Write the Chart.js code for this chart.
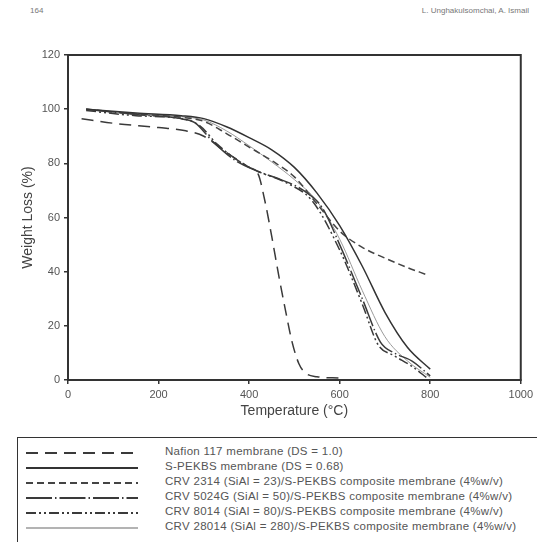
<!DOCTYPE html>
<html>
<head>
<meta charset="utf-8">
<script src="https://cdn.jsdelivr.net/npm/chart.js@4.4.1/dist/chart.umd.min.js"></script>
<style>
  body { margin: 0; background: #fff; font-family: "Liberation Sans", Arial, sans-serif; }
  #wrap { position: relative; width: 537px; height: 542px; overflow: hidden; }
  #chartBox { position: absolute; left: 0; top: 0; width: 537px; height: 420px; }
  .hdr { position: absolute; top: 6px; font-size: 8px; color: #777; }
  #legend { position: absolute; left: 17px; top: 437px; width: 530px; height: 120px;
            border: 1.5px solid #333; box-sizing: border-box; }
  .row { position: absolute; left: 0; height: 15px; width: 100%; }
  .row svg { position: absolute; left: 8px; top: 1px; }
  .row span { position: absolute; left: 147px; top: -1px; font-size: 11.5px; letter-spacing: 0.3px;
              color: #555; white-space: nowrap; }
</style>
</head>
<body>
<div id="wrap">
  <div class="hdr" style="left:30px">164</div>
  <div class="hdr" style="right:8px">L. Unghakulsomchai, A. Ismail</div>
  <div id="chartBox"><canvas id="tga"></canvas></div>
  <div id="legend"></div>
</div>
<script>
// axis ticks
const xTicks = [0, 200, 400, 600, 800, 1000];
const yTicks = [0, 20, 40, 60, 80, 100, 120];

// series labels
const labels = [
  "Nafion 117 membrane (DS = 1.0)",
  "S-PEKBS membrane (DS = 0.68)",
  "CRV 2314 (SiAl = 23)/S-PEKBS composite membrane (4%w/v)",
  "CRV 5024G (SiAl = 50)/S-PEKBS composite membrane (4%w/v)",
  "CRV 8014 (SiAl = 80)/S-PEKBS composite membrane (4%w/v)",
  "CRV 28014 (SiAl = 280)/S-PEKBS composite membrane (4%w/v)"
];

// temperature (°C) and weight (%)
const nafionT = [30, 100, 200, 260, 300, 350, 400, 420, 435, 450, 465, 480, 495, 510, 525, 550, 600];
const nafionW = [96.5, 94.8, 93.2, 92, 90, 84, 78.5, 76, 66, 53, 39, 26, 14, 6, 2.5, 1.2, 0.7];

const spekbsT = [40, 150, 250, 300, 350, 400, 450, 500, 550, 600, 650, 700, 750, 800];
const spekbsW = [100, 98.6, 97.6, 96.5, 93.5, 89.5, 85, 78.5, 69, 57, 42, 25, 12, 4];

const crv2314T = [40, 150, 250, 300, 350, 400, 450, 500, 550, 600, 650, 700, 750, 790];
const crv2314W = [100, 98.2, 97, 95.5, 91, 86, 81, 75, 65, 55, 49, 45, 41.5, 39];

const crv5024T = [40, 150, 250, 280, 320, 370, 420, 470, 520, 560, 600, 650, 690, 720, 760, 800];
const crv5024W = [100, 98, 96.5, 95, 88, 81, 77, 74, 70, 64, 50, 30, 14, 10, 7, 1.5];

const crv8014T = [40, 150, 250, 290, 330, 380, 420, 480, 540, 600, 650, 685, 720, 760, 795];
const crv8014W = [99.5, 97.6, 96.5, 94, 87, 80.5, 77, 73, 66, 48, 28, 13, 9, 5, 0.5];

const crv28014T = [40, 150, 250, 300, 350, 400, 450, 500, 550, 600, 650, 700, 750, 800];
const crv28014W = [100, 98.2, 97.2, 96, 92, 86.5, 80.5, 74, 66, 52, 33, 16, 7, 1];

const toPts = (t, w) => t.map((v, i) => ({ x: v, y: w[i] }));

const seriesT = [nafionT, spekbsT, crv2314T, crv5024T, crv8014T, crv28014T];
const seriesW = [nafionW, spekbsW, crv2314W, crv5024W, crv8014W, crv28014W];
const dashes = [[12, 7], [], [7, 4], [26, 3, 1.5, 3], [10, 3, 2, 3, 2, 3], []];
const colors = ["#3a3a3a", "#333", "#444", "#3a3a3a", "#3a3a3a", "#9a9a9a"];
const widths = [1.5, 1.5, 1.5, 1.5, 1.5, 1];

const datasets = labels.map((lab, i) => ({
  label: lab,
  data: toPts(seriesT[i], seriesW[i]),
  showLine: true,
  borderColor: colors[i],
  borderWidth: widths[i],
  borderDash: dashes[i],
  pointRadius: 0,
  cubicInterpolationMode: "monotone",
  fill: false
}));

// box around the plot area
const frame = {
  id: "frame",
  afterDraw(chart) {
    const { ctx, chartArea: a } = chart;
    ctx.save();
    ctx.strokeStyle = "#333";
    ctx.lineWidth = 2;
    ctx.strokeRect(a.left, a.top, a.right - a.left, a.bottom - a.top);
    ctx.restore();
  }
};

const tickFont = { family: "Liberation Sans", size: 11 };
const titleFont = { family: "Liberation Sans", size: 14 };

new Chart(document.getElementById("tga").getContext("2d"), {
  type: "scatter",
  data: { datasets: datasets },
  options: {
    responsive: true,
    maintainAspectRatio: false,
    animation: false,
    layout: { padding: { left: 20, top: 55, right: 15, bottom: 0 } },
    plugins: { legend: { display: false }, tooltip: { enabled: false } },
    scales: {
      x: {
        type: "linear",
        min: xTicks[0],
        max: xTicks[xTicks.length - 1],
        afterBuildTicks: (s) => { s.ticks = xTicks.map((v) => ({ value: v })); },
        afterFit: (s) => { s.height = 40; },
        ticks: { color: "#555", font: tickFont, padding: 4, callback: (v) => String(v) },
        grid: { drawOnChartArea: false, tickLength: 4, color: "#333", lineWidth: 1.5 },
        border: { color: "#333", width: 2 },
        title: { display: true, text: "Temperature (°C)", color: "#444", font: titleFont, padding: 0 }
      },
      y: {
        min: yTicks[0],
        max: yTicks[yTicks.length - 1],
        afterBuildTicks: (s) => { s.ticks = yTicks.map((v) => ({ value: v })); },
        afterFit: (s) => { s.width = 48; },
        ticks: { color: "#555", font: tickFont, padding: 4, callback: (v) => String(v) },
        grid: { drawOnChartArea: false, tickLength: 4, color: "#333", lineWidth: 1.5 },
        border: { color: "#333", width: 2 },
        title: { display: true, text: "Weight Loss (%)", color: "#444", font: titleFont, padding: 0 }
      }
    }
  },
  plugins: [frame]
});

// legend box below the chart
const legend = document.getElementById("legend");
datasets.forEach((d, i) => {
  const row = document.createElement("div");
  row.className = "row";
  row.style.top = (8 + i * 15) + "px";
  row.innerHTML =
    '<svg width="112" height="12"><line x1="0" y1="6" x2="112" y2="6" stroke="' + d.borderColor +
    '" stroke-width="' + (d.borderWidth + 0.5) + '" stroke-dasharray="' + (d.borderDash.join(",") || "none") +
    '"/></svg><span>' + d.label + "</span>";
  legend.appendChild(row);
});
</script>
</body>
</html>
